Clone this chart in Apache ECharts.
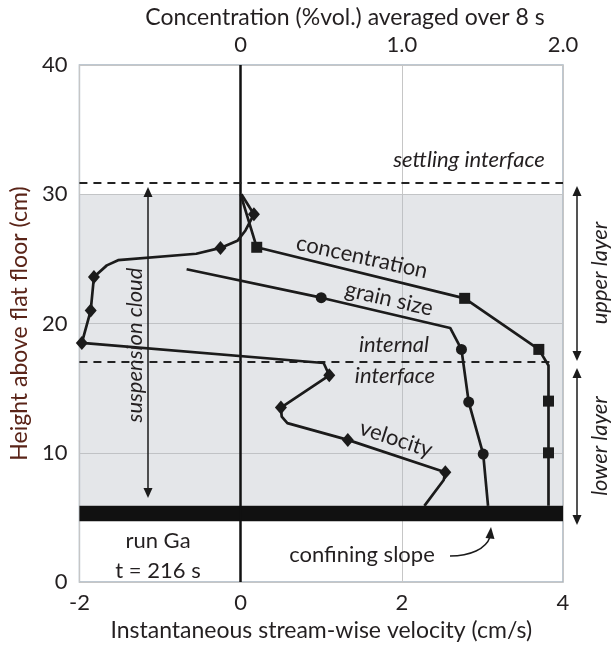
<!DOCTYPE html>
<html>
<head>
<meta charset="utf-8">
<script src="https://cdn.jsdelivr.net/npm/echarts@6/dist/echarts.min.js"></script>
<style>
html,body{margin:0;padding:0;background:#fff;}
#chart{width:612px;height:647px;}
</style>
</head>
<body>
<div id="chart"></div>
<script>
// ---------- data ----------
// velocity profile (cm/s) vs height (cm); measured = 1 marks diamond measurement points
const velocityV = [0.01, 0.165, 0.06, -0.04, -0.25, -0.55, -1.52, -1.66, -1.82, -1.86, -1.97, 1.03, 1.10, 0.50, 0.51, 0.58, 1.33, 2.54, 2.52, 2.28];
const velocityH = [30.0, 28.45, 27.2, 26.4, 25.85, 25.4, 24.9, 24.5, 23.6, 21.0, 18.5, 16.95, 16.0, 13.5, 12.8, 12.3, 11.0, 8.5, 7.9, 5.9];
const velocityMeasured = [0, 1, 0, 0, 1, 0, 0, 0, 1, 1, 1, 0, 1, 1, 0, 0, 1, 1, 0, 0];

// concentration (%vol., top axis) vs height
const concC = [0.0, 0.10, 1.39, 1.85, 1.91, 1.91, 1.91, 1.91];
const concH = [30.0, 25.9, 21.95, 18.0, 16.75, 14.0, 10.0, 5.9];
const concMeasured = [0, 1, 1, 1, 0, 1, 1, 0];

// grain size (relative, plotted on velocity scale) vs height
const grainX = [-0.67, 1.0, 2.60, 2.74, 2.83, 3.01, 3.07];
const grainH = [24.2, 22.0, 19.66, 18.0, 13.93, 9.9, 5.9];
const grainMeasured = [0, 1, 0, 1, 1, 1, 0];

// interfaces and zones (height, cm)
const settlingInterfaceH = 30.9;
const internalInterfaceH = 17.05;
const cloudTopH = 30.0;
const slopeBottomH = 4.7;
const slopeTopH = 5.9;

const velTicks = [-2, 0, 2, 4];
const concTickLabels = {'-1': '', '0': '0', '1': '1.0', '2': '2.0'};
const heightTicks = [0, 10, 20, 30, 40];

// ---------- chart ----------
const FONT = 'Lato';
const TXT = '#231f20';
const LINE = '#1b1b1b';

function mk(xs, ys, flags, sym, size) {
  return xs.map((x, i) => ({
    value: [x, ys[i]],
    symbol: flags[i] ? sym : 'none',
    symbolSize: size
  }));
}

const chart = echarts.init(document.getElementById('chart'), null, {renderer: 'canvas'});

function arrowV(x, y1, y2) {
  const hl = 10, hw = 4.5;
  return [
    {type: 'line', shape: {x1: x, y1: y1 + 4, x2: x, y2: y2 - 4}, style: {stroke: LINE, lineWidth: 1.5}, z: 50},
    {type: 'polygon', shape: {points: [[x, y1], [x - hw, y1 + hl], [x + hw, y1 + hl]]}, style: {fill: LINE}, z: 50},
    {type: 'polygon', shape: {points: [[x, y2], [x - hw, y2 - hl], [x + hw, y2 - hl]]}, style: {fill: LINE}, z: 50}
  ];
}

const italic = (text, x, y, rot, size) => ({
  type: 'text', x: x, y: y, rotation: rot || 0, z: 60,
  style: {text: text, font: 'italic ' + (size || 22) + 'px ' + FONT, fill: TXT, align: 'center', verticalAlign: 'middle'}
});
const plain = (text, x, y, rot, size) => ({
  type: 'text', x: x, y: y, rotation: rot || 0, z: 60,
  style: {text: text, font: (size || 22) + 'px ' + FONT, fill: TXT, align: 'center', verticalAlign: 'middle'}
});

const deg = Math.PI / 180;

const option = {
  backgroundColor: '#fff',
  animation: false,
  textStyle: {fontFamily: FONT},
  grid: {left: 76, top: 65, width: 487, height: 519, show: true, borderColor: '#a9b6c2', borderWidth: 1.5, backgroundColor: 'transparent'},
  xAxis: [
    {
      type: 'value', position: 'bottom', min: -2, max: 4, interval: 2,
      axisLine: {show: false}, axisTick: {show: false},
      axisLabel: {fontSize: 22, color: TXT, margin: 10, fontFamily: FONT},
      splitLine: {show: true, lineStyle: {color: '#c6c6c6', width: 1}},
      name: 'Instantaneous stream-wise velocity (cm/s)', nameLocation: 'middle', nameGap: 36,
      nameTextStyle: {fontSize: 23, color: TXT, fontFamily: FONT}
    },
    {
      type: 'value', position: 'top', min: -1, max: 2, interval: 1,
      axisLine: {show: false}, axisTick: {show: false},
      axisLabel: {fontSize: 22, color: TXT, margin: 9, fontFamily: FONT,
        formatter: v => concTickLabels[String(Math.round(v))]},
      splitLine: {show: false}
    }
  ],
  yAxis: {
    type: 'value', min: 0, max: 40, interval: 10,
    axisLine: {show: false}, axisTick: {show: false},
    axisLabel: {fontSize: 22, color: TXT, margin: 12, fontFamily: FONT},
    splitLine: {show: true, lineStyle: {color: '#c6c6c6', width: 1}},
    name: 'Height above flat floor (cm)', nameLocation: 'middle', nameGap: 46,
    nameTextStyle: {fontSize: 23, color: '#5a2418', fontFamily: FONT}
  },
  series: [
    {
      type: 'line', data: [], z: 1, silent: true,
      markArea: {
        silent: true,
        data: [
          [{yAxis: slopeTopH, itemStyle: {color: 'rgba(185,189,198,0.38)'}}, {yAxis: cloudTopH}],
          [{yAxis: slopeBottomH, itemStyle: {color: '#111'}}, {yAxis: slopeTopH}]
        ]
      },
      markLine: {
        silent: true, symbol: 'none', label: {show: false},
        data: [
          [{coord: [0, 0], lineStyle: {color: '#111', width: 2.5, type: 'solid'}}, {coord: [0, 40]}],
          [{coord: [-2, settlingInterfaceH], lineStyle: {color: '#222', width: 2, type: [8, 6]}}, {coord: [4, settlingInterfaceH]}],
          [{coord: [-2, internalInterfaceH], lineStyle: {color: '#222', width: 2, type: [8, 6]}}, {coord: [3.88, internalInterfaceH]}]
        ]
      }
    },
    {
      name: 'velocity', type: 'line', xAxisIndex: 0, z: 5,
      data: mk(velocityV, velocityH, velocityMeasured, 'diamond', [12, 14]),
      lineStyle: {color: LINE, width: 2.7}, itemStyle: {color: LINE}, showAllSymbol: true
    },
    {
      name: 'concentration', type: 'line', xAxisIndex: 1, z: 5,
      data: mk(concC, concH, concMeasured, 'rect', 11),
      lineStyle: {color: LINE, width: 2.7}, itemStyle: {color: LINE}, showAllSymbol: true
    },
    {
      name: 'grain size', type: 'line', xAxisIndex: 0, z: 5,
      data: mk(grainX, grainH, grainMeasured, 'circle', 11),
      lineStyle: {color: LINE, width: 2.7}, itemStyle: {color: LINE}, showAllSymbol: true
    }
  ],
  graphic: [
    plain('Concentration (%vol.) averaged over 8 s', 345, 18, 0, 23),
    italic('settling interface', 469, 160),
    plain('concentration', 362, 257, -12.5 * deg),
    plain('grain size', 389, 299, -13 * deg),
    italic('internal', 394, 345),
    italic('interface', 395, 376),
    plain('velocity', 396, 439, -18 * deg),
    italic('suspension cloud', 135, 345, 90 * deg),
    italic('upper layer', 600, 273, 90 * deg),
    italic('lower layer', 600, 446, 90 * deg),
    plain('run Ga', 158, 541),
    plain('t = 216 s', 158, 571),
    plain('confining slope', 362, 555),
    ...arrowV(148, 187, 498),
    ...arrowV(577, 186, 361),
    ...arrowV(577, 368, 525),
    {type: 'bezierCurve', shape: {x1: 450, y1: 556, cpx1: 470, cpy1: 556, cpx2: 486, cpy2: 549, x2: 490, y2: 537}, style: {stroke: LINE, lineWidth: 1.5, fill: null}, z: 50},
    {type: 'polygon', shape: {points: [[491, 527], [485.5, 538], [494.5, 539]]}, style: {fill: LINE}, z: 50}
  ]
};

chart.setOption(option);
</script>
</body>
</html>
